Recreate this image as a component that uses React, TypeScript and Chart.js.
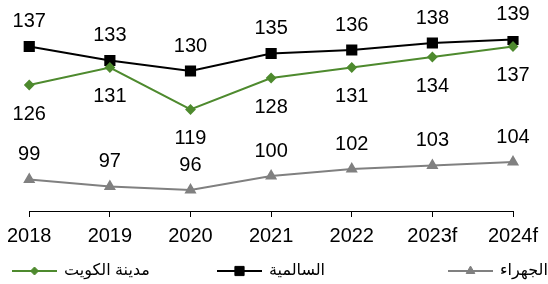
import React, { useEffect, useRef } from "react";
import { Chart, registerables } from "chart.js";
import { drawPoint } from "chart.js/helpers";

Chart.register(...registerables);

const years = ["2018", "2019", "2020", "2021", "2022", "2023f", "2024f"];
const kuwaitCity = [126, 131, 119, 128, 131, 134, 137];
const salmiya = [137, 133, 130, 135, 136, 138, 139];
const jahra = [99, 97, 96, 100, 102, 103, 104];
const seriesNames = ["مدينة الكويت", "السالمية", "الجهراء"];

const FONT = "'Liberation Sans', Arial, 'DejaVu Sans', sans-serif";

const dataLabelsPlugin = {
  id: "dataLabels",
  afterDatasetsDraw(chart: any) {
    const ctx = chart.ctx;
    ctx.save();
    ctx.font = `20px ${FONT}`;
    ctx.fillStyle = "#000";
    ctx.textAlign = "center";
    ctx.textBaseline = "middle";
    chart.data.datasets.forEach((ds: any, i: number) => {
      const meta = chart.getDatasetMeta(i);
      const off = ds.labelSide === "below" ? 29 : -25;
      meta.data.forEach((pt: any, j: number) => {
        ctx.fillText(String(ds.data[j]), pt.x, pt.y + off);
      });
    });
    ctx.restore();
  },
};

const legendStarts = [12, 217, 448];

const customLegendPlugin = {
  id: "customLegend",
  afterDraw(chart: any) {
    const ctx = chart.ctx;
    const y = chart.height - 13;
    ctx.save();
    chart.data.datasets.forEach((ds: any, i: number) => {
      const x0 = legendStarts[i];
      const len = 45;
      ctx.strokeStyle = ds.borderColor;
      ctx.lineWidth = ds.borderWidth;
      ctx.beginPath();
      ctx.moveTo(x0, y);
      ctx.lineTo(x0 + len, y);
      ctx.stroke();
      ctx.fillStyle = ds.pointBackgroundColor;
      ctx.strokeStyle = ds.pointBorderColor;
      ctx.lineWidth = 1;
      drawPoint(ctx, { pointStyle: ds.pointStyle, radius: ds.pointRadius, rotation: 0, borderWidth: 1 } as any, x0 + len / 2, y);
      ctx.font = `16px ${FONT}`;
      ctx.fillStyle = "#000";
      ctx.textAlign = "left";
      ctx.textBaseline = "middle";
      ctx.fillText(ds.label, x0 + len + 7, y);
    });
    ctx.restore();
  },
};

export default function App() {
  const ref = useRef<HTMLCanvasElement>(null);
  useEffect(() => {
    if (!ref.current) return;
    const green = "#4E8A2E";
    const gray = "#808080";
    const chart = new Chart(ref.current, {
      type: "line",
      data: {
        labels: years,
        datasets: [
          {
            label: seriesNames[0],
            data: kuwaitCity,
            borderColor: green,
            backgroundColor: green,
            pointBackgroundColor: green,
            pointBorderColor: green,
            borderWidth: 2,
            pointStyle: "rectRot",
            pointRadius: 4,
            labelSide: "below",
          } as any,
          {
            label: seriesNames[1],
            data: salmiya,
            borderColor: "#000",
            backgroundColor: "#000",
            pointBackgroundColor: "#000",
            pointBorderColor: "#000",
            borderWidth: 2,
            pointStyle: "rect",
            pointRadius: 6.5,
            labelSide: "above",
          } as any,
          {
            label: seriesNames[2],
            data: jahra,
            borderColor: gray,
            backgroundColor: gray,
            pointBackgroundColor: gray,
            pointBorderColor: gray,
            borderWidth: 2,
            pointStyle: "triangle",
            pointRadius: 5,
            labelSide: "above",
          } as any,
        ],
      },
      options: {
        animation: false,
        responsive: false,
        maintainAspectRatio: false,
        layout: { padding: { left: 29, right: 35, top: 36, bottom: 29 } },
        elements: { line: { tension: 0 } },
        plugins: {
          legend: { display: false },
          tooltip: { enabled: false },
        },
        scales: {
          x: {
            offset: false,
            grid: {
              display: true,
              drawOnChartArea: false,
              drawTicks: true,
              tickLength: 6,
              color: "#000",
              lineWidth: 1,
            },
            border: { display: true, color: "#000", width: 1 },
            ticks: {
              color: "#000",
              font: { size: 20, family: FONT },
              padding: 7,
              maxRotation: 0,
              autoSkip: false,
            },
          },
          y: {
            display: false,
            min: 90,
            max: 140,
          },
        },
      },
      plugins: [dataLabelsPlugin, customLegendPlugin],
    });
    return () => chart.destroy();
  }, []);
  return (
    <div style={{ position: "fixed", left: 0, top: 0, width: 548, height: 284, background: "#fff" }}>
      <canvas ref={ref} width={548} height={284} style={{ width: 548, height: 284 }} />
    </div>
  );
}
